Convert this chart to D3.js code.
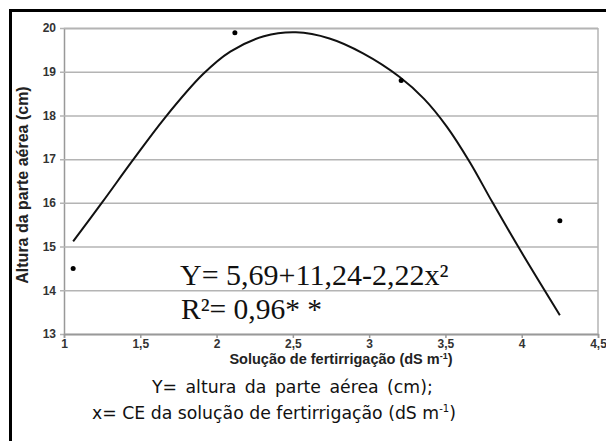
<!DOCTYPE html>
<head>
    <meta charset="utf-8">
    <title>Altura da parte aerea</title>
    <style>
        body { margin: 0; background: #fff; }
        svg { display: block; }
        .tick text { font-family: "Liberation Sans", Arial, sans-serif; font-weight: bold; font-size: 12px; fill: #333; }
    </style>
</head>
<body>

<svg width="606" height="441"></svg>

<script src="https://d3js.org/d3.v7.min.js"></script>

<script>

    //data
    var obsX = [1.06, 2.12, 3.21, 4.25];
    var obsY = [14.5, 19.89, 18.8, 15.59];

    //fitted curve
    var fitX = [1.06, 1.25, 1.45, 1.66, 1.91, 2.09, 2.31, 2.52, 2.74, 2.96, 3.2, 3.36, 3.51, 3.66, 3.81, 3.99, 4.25];
    var fitY = [15.12, 16.01, 16.97, 17.94, 18.94, 19.46, 19.81, 19.9, 19.76, 19.42, 18.88, 18.38, 17.74, 16.93, 16.0, 14.92, 13.43];

    //ticks
    var xTicks = [1, 1.5, 2, 2.5, 3, 3.5, 4, 4.5];
    var xTickLabels = ["1", "1,5", "2", "2,5", "3", "3,5", "4", "4,5"];
    var yTicks = [13, 14, 15, 16, 17, 18, 19, 20];

    //svg setting
    var svg = d3.select("svg");

    //plot box (window.top is taken, so use prefixed names)
    var pLeft = 64, pRight = 598, pTop = 28, pBottom = 334;

    //scaling
    var x = d3.scaleLinear().domain([1, 4.5]).range([pLeft, pRight]);
    var y = d3.scaleLinear().domain([13, 20]).range([pBottom, pTop]);

    //frame of the figure (only top and left edges show)
    svg.append("path")
        .attr("d", "M10.5,441V10.5H606")
        .attr("fill", "none")
        .attr("stroke", "#000")
        .attr("stroke-width", 3);

    //gridlines + y labels
    var yAxis = svg.append("g")
        .attr("transform", "translate(" + pLeft + ",0)")
        .call(d3.axisLeft(y).tickValues(yTicks).tickSize(-(pRight - pLeft)).tickPadding(8).tickFormat(d3.format("d")));
    yAxis.select(".domain").attr("stroke", "#999").attr("stroke-width", 1.5);
    yAxis.selectAll(".tick line")
        .attr("x1", -4)
        .attr("stroke", "#b4b4b4")
        .attr("stroke-width", 1.5);

    //right edge of plot
    svg.append("line")
        .attr("x1", pRight).attr("x2", pRight)
        .attr("y1", pTop).attr("y2", pBottom)
        .attr("stroke", "#b4b4b4")
        .attr("stroke-width", 1.5);

    //x axis
    var xAxis = svg.append("g")
        .attr("transform", "translate(0," + pBottom + ")")
        .call(d3.axisBottom(x).tickValues(xTicks).tickSize(4).tickPadding(1)
            .tickFormat((d, i) => xTickLabels[i]));
    xAxis.select(".domain").attr("stroke", "#999").attr("stroke-width", 1.5);
    xAxis.selectAll(".tick line").attr("stroke", "#999").attr("stroke-width", 1.5);

    //fitted line
    var line = d3.line()
        .x((d, i) => x(fitX[i]))
        .y((d, i) => y(fitY[i]))
        .curve(d3.curveCatmullRom);

    svg.append("path")
        .datum(fitX)
        .attr("d", line)
        .attr("fill", "none")
        .attr("stroke", "#111")
        .attr("stroke-width", 2);

    //observed points
    svg.append("g")
        .selectAll("circle")
        .data(obsX)
        .enter().append("circle")
            .attr("cx", d => x(d))
            .attr("cy", (d, i) => y(obsY[i]))
            .attr("r", 2.5)
            .attr("fill", "#000");

    //axis titles
    svg.append("text")
        .attr("transform", "translate(28,185) rotate(-90)")
        .attr("text-anchor", "middle")
        .style("font-family", "Liberation Sans, Arial, sans-serif")
        .style("font-weight", "bold")
        .style("font-size", "16px")
        .style("fill", "#222")
        .text("Altura da parte aérea (cm)");

    var xt = svg.append("text")
        .attr("x", 341)
        .attr("y", 364)
        .attr("text-anchor", "middle")
        .style("font-family", "Liberation Sans, Arial, sans-serif")
        .style("font-weight", "bold")
        .style("font-size", "14.5px")
        .style("fill", "#222");
    xt.append("tspan").text("Solução de fertirrigação (dS m");
    xt.append("tspan").attr("dy", -5).style("font-size", "9px").text("-1");
    xt.append("tspan").attr("dy", 5).text(")");

    //equation
    var eq = svg.append("g")
        .style("font-family", "Liberation Serif, Times New Roman, serif")
        .style("fill", "#111");
    eq.append("text").attr("x", 180).attr("y", 285).style("font-size", "30px").text("Y= 5,69+11,24-2,22x²");
    eq.append("text").attr("x", 181).attr("y", 319).style("font-size", "29.5px").text("R²= 0,96* *");

    //footnote
    var foot = svg.append("g")
        .style("font-family", "DejaVu Sans, Verdana, sans-serif")
        .style("font-size", "17.3px")
        .style("fill", "#111");
    foot.append("text").attr("x", 152).attr("y", 393)
        .style("word-spacing", "3px")
        .text("Y= altura da parte aérea (cm);");
    var f2 = foot.append("text").attr("x", 92).attr("y", 419);
    f2.append("tspan").text("x= CE da solução de fertirrigação (dS m");
    f2.append("tspan").attr("dy", -7).style("font-size", "10px").text("-1");
    f2.append("tspan").attr("dy", 7).text(")");

</script>
</body>
